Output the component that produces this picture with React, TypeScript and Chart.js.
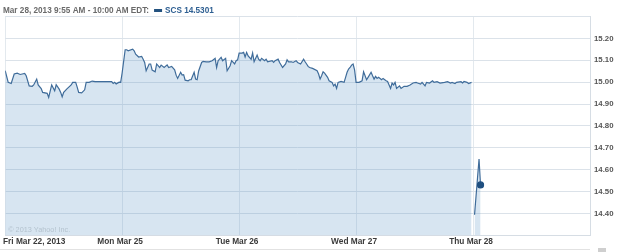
import React, { useEffect, useRef } from "react";
import { Chart, registerables } from "chart.js";

Chart.register(...registerables);

const SLOTS_PER_DAY = 78;
const dayLabels = ["Fri Mar 22, 2013", "Mon Mar 25", "Tue Mar 26", "Wed Mar 27", "Thu Mar 28"];
const yTickValues = [14.4, 14.5, 14.6, 14.7, 14.8, 14.9, 15.0, 15.1, 15.2];
const headerText = "Mar 28, 2013 9:55 AM - 10:00 AM EDT:";
const seriesLabel = "SCS 14.5301";
const watermark = "\u00A9 2013 Yahoo! Inc.";

const friSlots = [0, 2, 4, 6, 8, 10, 13, 14, 16, 18, 19, 21, 22, 24, 25, 28, 29, 31, 33, 34, 36, 37, 38, 39, 41, 44, 45, 47, 48, 49, 51, 53, 54, 56, 58, 60, 64, 71, 72, 73, 74, 76, 77];
const friValues = [15.052, 14.999, 14.994, 15.037, 15.041, 15.035, 15.04, 15.029, 14.983, 14.981, 14.987, 15.014, 14.987, 14.971, 14.953, 14.949, 14.93, 14.987, 14.96, 14.988, 14.968, 14.953, 14.933, 14.953, 14.968, 14.987, 14.999, 14.999, 14.977, 14.953, 14.951, 14.965, 14.999, 14.999, 15.005, 15.002, 15.002, 15.002, 14.994, 14.999, 14.992, 15.0, 14.999];

const monSlots = [0, 2, 3, 4, 7, 8, 9, 11, 13, 14, 15, 16, 18, 19, 20, 22, 23, 25, 26, 28, 30, 31, 33, 35, 36, 37, 39, 40, 41, 42, 44, 45, 46, 48, 49, 50, 51, 53, 54, 56, 58, 60, 62, 63, 64, 66, 67, 69, 70, 72, 73, 75, 76, 77];
const monValues = [15.043, 15.148, 15.148, 15.143, 15.151, 15.143, 15.128, 15.115, 15.118, 15.105, 15.09, 15.052, 15.083, 15.083, 15.055, 15.047, 15.083, 15.067, 15.078, 15.067, 15.079, 15.067, 15.072, 15.056, 15.032, 15.017, 15.045, 15.032, 15.034, 15.009, 15.006, 15.011, 15.011, 15.045, 15.014, 15.011, 15.051, 15.09, 15.095, 15.093, 15.093, 15.098, 15.109, 15.067, 15.098, 15.113, 15.098, 15.109, 15.052, 15.075, 15.098, 15.083, 15.098, 15.102];

const tueSlots = [0, 2, 3, 4, 5, 6, 8, 9, 10, 12, 13, 14, 15, 17, 18, 19, 22, 23, 24, 26, 27, 29, 31, 32, 33, 35, 36, 38, 39, 41, 43, 44, 45, 46, 47, 49, 52, 53, 54, 55, 56, 57, 59, 60, 62, 63, 64, 65, 66, 68, 70, 71, 72, 73, 74, 75, 76, 77];
const tueValues = [15.133, 15.133, 15.136, 15.115, 15.136, 15.12, 15.105, 15.133, 15.093, 15.124, 15.105, 15.098, 15.109, 15.098, 15.105, 15.093, 15.098, 15.09, 15.098, 15.105, 15.09, 15.067, 15.083, 15.102, 15.093, 15.093, 15.09, 15.098, 15.09, 15.083, 15.105, 15.093, 15.083, 15.072, 15.067, 15.063, 15.052, 15.037, 15.014, 15.029, 15.047, 15.041, 15.022, 15.006, 14.999, 14.983, 14.991, 14.971, 14.999, 15.003, 14.999, 15.022, 15.045, 15.06, 15.067, 15.078, 15.083, 15.056];

const wedSlots = [0, 2, 4, 5, 7, 8, 10, 11, 12, 13, 14, 15, 17, 18, 20, 21, 23, 24, 25, 26, 27, 29, 30, 32, 34, 36, 38, 40, 41, 43, 44, 46, 47, 49, 51, 52, 54, 56, 59, 61, 63, 64, 66, 67, 70, 71, 72, 74, 75, 77];
const wedValues = [14.999, 14.999, 15.006, 15.047, 15.011, 15.022, 15.045, 15.029, 15.014, 15.026, 15.017, 15.022, 15.011, 15.017, 15.006, 15.003, 14.971, 14.996, 14.987, 14.999, 14.971, 14.983, 14.971, 14.981, 14.981, 14.987, 14.996, 14.999, 14.996, 14.991, 14.999, 14.983, 14.999, 14.996, 15.006, 14.999, 15.002, 14.996, 14.999, 15.002, 14.996, 14.999, 14.994, 14.999, 15.002, 14.996, 15.003, 14.999, 14.994, 14.999];

const thuSlots = [1, 4, 5];
const thuValues = [14.394, 14.649, 14.5301];

const LINE = "#3f6c9a";
const FILL = "rgba(101,155,200,0.26)";

function toPoints(day: number, slots: number[], values: number[]) {
  return slots.map((s, i) => ({ x: day * SLOTS_PER_DAY + s, y: values[i] }));
}

export default function App() {
  const ref = useRef<HTMLCanvasElement | null>(null);

  useEffect(() => {
    const canvas = ref.current;
    if (!canvas) return;

    const mainPoints = [
      ...toPoints(0, friSlots, friValues),
      ...toPoints(1, monSlots, monValues),
      ...toPoints(2, tueSlots, tueValues),
      ...toPoints(3, wedSlots, wedValues),
    ];
    const thuPoints = toPoints(4, thuSlots, thuValues);

    const overlay = {
      id: "overlay",
      afterDraw(chart: any) {
        const ctx = chart.ctx as CanvasRenderingContext2D;
        const xs = chart.scales.x;
        const area = chart.chartArea;
        ctx.save();
        // header
        ctx.textBaseline = "middle";
        ctx.textAlign = "left";
        ctx.font = "bold 8.2px 'Liberation Sans', Arial, sans-serif";
        ctx.fillStyle = "#6a6a6a";
        ctx.fillText(headerText, 3, 10.5);
        const w = ctx.measureText(headerText).width;
        ctx.fillStyle = "#23527f";
        ctx.fillRect(3 + w + 5, 9, 8, 3);
        ctx.fillStyle = "#2e5f92";
        ctx.fillText(seriesLabel, 3 + w + 16, 10.5);

        // watermark
        ctx.font = "7.3px 'Liberation Sans', Arial, sans-serif";
        ctx.fillStyle = "#b4c3cf";
        ctx.fillText(watermark, area.left + 3, 229.5);

        // x labels
        ctx.font = "bold 8.3px 'Liberation Sans', Arial, sans-serif";
        ctx.fillStyle = "#3a3a3a";
        dayLabels.forEach((lab, i) => {
          const px = xs.getPixelForValue(i * SLOTS_PER_DAY);
          if (i === 0) {
            ctx.textAlign = "left";
            ctx.fillText(lab, 3, 242);
          } else {
            ctx.textAlign = "center";
            ctx.fillText(lab, px - 2, 242);
          }
        });

        // bottom rule
        ctx.strokeStyle = "#e2e2e2";
        ctx.lineWidth = 1;
        ctx.beginPath();
        ctx.moveTo(0, 249.5);
        ctx.lineTo(area.right, 249.5);
        ctx.stroke();
        ctx.fillStyle = "#cfcfcf";
        ctx.fillRect(598, 248, 8, 4);
        ctx.restore();
      },
    };

    const chart = new Chart(canvas, {
      type: "line",
      data: {
        datasets: [
          {
            data: mainPoints,
            borderColor: LINE,
            backgroundColor: FILL,
            borderWidth: 1.2,
            fill: "start",
            pointRadius: 0,
            tension: 0,
          },
          {
            data: thuPoints,
            borderColor: LINE,
            backgroundColor: FILL,
            borderWidth: 1.2,
            fill: "start",
            pointRadius: thuPoints.map((_, i) => (i === thuPoints.length - 1 ? 3 : 0)),
            pointBackgroundColor: "#1f4f80",
            pointBorderColor: "#1f4f80",
            tension: 0,
          },
        ],
      },
      options: {
        animation: false,
        responsive: false,
        maintainAspectRatio: false,
        devicePixelRatio: 1,
        layout: { padding: { left: 2.5, top: 16.5, right: 0, bottom: 0 } },
        plugins: {
          legend: { display: false },
          tooltip: { enabled: false },
          title: { display: false },
        },
        scales: {
          x: {
            type: "linear",
            min: 0,
            max: SLOTS_PER_DAY * 5,
            z: 1,
            afterBuildTicks: (scale: any) => {
              const t = dayLabels.map((_, i) => ({ value: i * SLOTS_PER_DAY }));
              t.push({ value: SLOTS_PER_DAY * 5 });
              scale.ticks = t;
            },
            afterFit: (scale: any) => {
              scale.height = 16.7;
            },
            ticks: { display: false },
            grid: { color: "#e3e9ee", drawTicks: false, lineWidth: 1 },
            border: { display: true, color: "#d6dde4" },
          },
          y: {
            type: "linear",
            position: "right",
            min: 14.3,
            max: 15.3,
            afterBuildTicks: (scale: any) => {
              const t = [{ value: 14.3 }, ...yTickValues.map((v) => ({ value: v })), { value: 15.3 }];
              scale.ticks = t;
            },
            afterFit: (scale: any) => {
              scale.width = 35;
            },
            ticks: {
              padding: 4,
              color: "#555",
              font: { family: "'Liberation Sans', Arial, sans-serif", size: 7.8, weight: "bold" },
              callback: (v: any) => {
                const n = Number(v);
                if (n < 14.35 || n > 15.25) return "";
                return n.toFixed(2);
              },
            },
            grid: { color: "#dbe2e9", drawTicks: false, lineWidth: 1 },
            border: { display: true, color: "#d6dde4" },
          },
        },
      },
      plugins: [overlay],
    } as any);

    return () => chart.destroy();
  }, []);

  return (
    <div style={{ position: "fixed", left: 0, top: 0, width: 625, height: 252, background: "#fff" }}>
      <canvas ref={ref} width={625} height={252} style={{ display: "block", width: 625, height: 252 }} />
    </div>
  );
}
